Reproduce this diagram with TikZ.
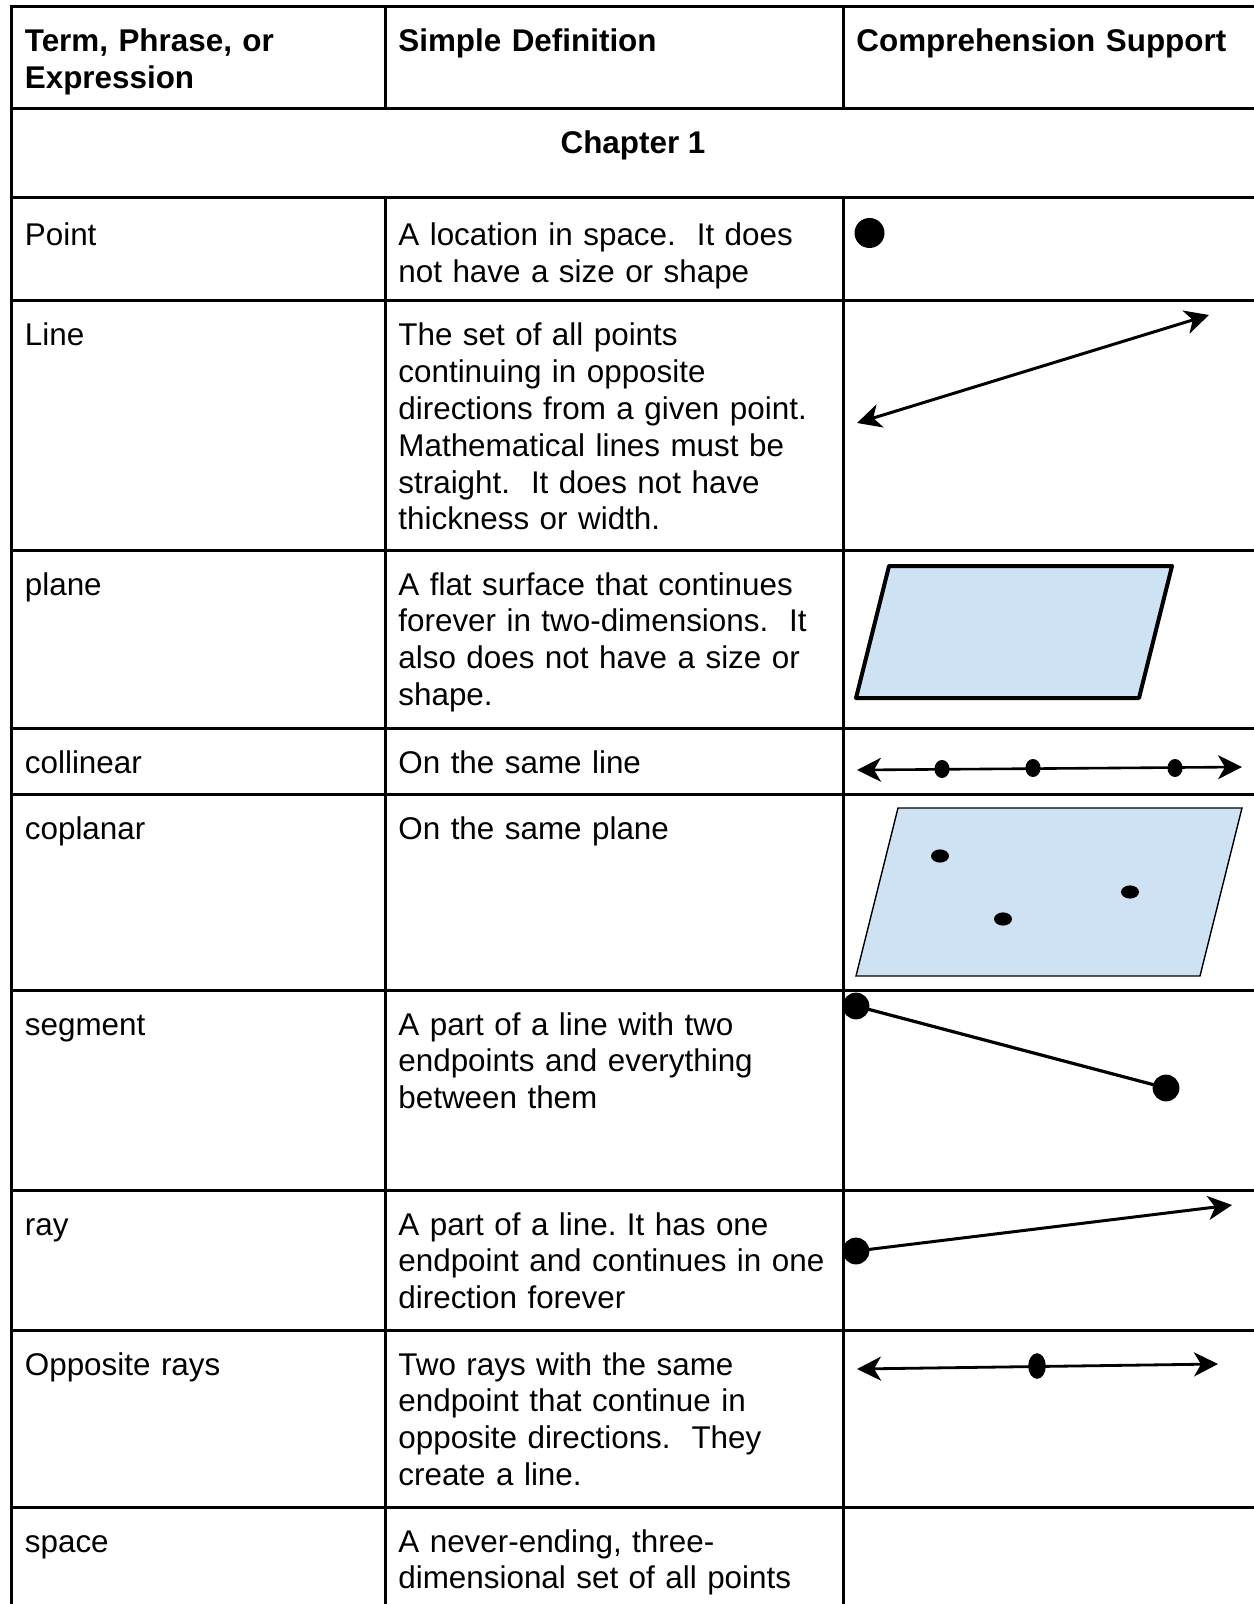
\documentclass[tikz,border=0pt]{standalone}
\usepackage{fontspec}
\setmainfont{Liberation Sans}
\usetikzlibrary{arrows.meta}
\frenchspacing

\definecolor{planeblue}{HTML}{CFE2F3}

\begin{document}
\begin{tikzpicture}[x=0.5pt, y=-0.5pt,
  cell/.style={anchor=base west, inner sep=0pt, align=left, text width=228pt,
    font=\fontsize{15.7}{18.4}\selectfont},
  headcell/.style={cell, font=\fontsize{15.7}{18.4}\selectfont\bfseries},
  rule/.style={line width=1.5pt},
  barb/.tip={Stealth[length=12pt, width=12pt, inset=3.5pt]}]

\useasboundingbox (0,0) rectangle (1253,1604);

% Draw table lines
\foreach \y in {7,109,198,301,550,728,794,990,1190,1330,1507}
  \draw [rule] (9.5,\y) -- (1262,\y);
\draw [rule] (11,5.5) -- (11,1612);
\draw [rule] (1255,5.5) -- (1255,1612);
\foreach \x in {385,843} {
  \draw [rule] (\x,7) -- (\x,109);
  \draw [rule] (\x,198) -- (\x,1612);
}

% Header and chapter
\node [headcell] (hterm) at (24.5,52) {Term, Phrase, or\\Expression};
\node [headcell] (hdef) at (398,52) {Simple Definition};
\node [headcell] (hsup) at (856,52) {Comprehension Support};
\node [headcell, anchor=base, align=center, text width=] (chap) at (633,154) {Chapter 1};

% Terms
\node [cell] (tpoint) at (24.5,246) {Point};
\node [cell] (tline) at (24.5,346) {Line};
\node [cell] (tplane) at (24.5,595) {plane};
\node [cell] (tcoll) at (24.5,773) {collinear};
\node [cell] (tcopl) at (24.5,839) {coplanar};
\node [cell] (tseg) at (24.5,1035) {segment};
\node [cell] (tray) at (24.5,1235) {ray};
\node [cell] (topp) at (24.5,1375) {Opposite rays};
\node [cell] (tspace) at (24.5,1552) {space};

% Definitions
\node [cell] (dpoint) at (398,246) {A location in space.\ \ It does\\not have a size or shape};
\node [cell] (dline) at (398,346) {The set of all points\\continuing in opposite\\directions from a given point.\\Mathematical lines must be\\straight.\ \ It does not have\\thickness or width.};
\node [cell] (dplane) at (398,595) {A flat surface that continues\\forever in two-dimensions.\ \ It\\also does not have a size or\\shape.};
\node [cell] (dcoll) at (398,773) {On the same line};
\node [cell] (dcopl) at (398,839) {On the same plane};
\node [cell] (dseg) at (398,1035) {A part of a line with two\\endpoints and everything\\between them};
\node [cell] (dray) at (398,1235) {A part of a line. It has one\\endpoint and continues in one\\direction forever};
\node [cell] (dopp) at (398,1375) {Two rays with the same\\endpoint that continue in\\opposite directions.\ \ They\\create a line.};
\node [cell] (dspace) at (398,1552) {A never-ending, three-\\dimensional set of all points};

% Point
\fill (869.5,233) circle (7.5pt);

% Line
\coordinate (lineA) at (857,423);
\coordinate (lineB) at (1209,315);
\draw [line width=1.5pt, barb-barb] (lineA) -- (lineB);

% Plane
\draw [line width=2pt, line join=round, fill=planeblue]
  (889,566) -- (1172,566) -- (1139,698) -- (856,698) -- cycle;

% Collinear points
\coordinate (collA) at (857,770);
\coordinate (collB) at (1242,767);
\draw [line width=1.3pt, barb-barb] (collA) -- (collB);
\foreach \x/\y in {942/769,1033/768,1175/768}
  \fill (\x,\y) ellipse (3.8pt and 4.5pt);

% Coplanar points
\draw [line width=0.7pt, fill=planeblue]
  (898,808) -- (1242,808) -- (1200,976) -- (856,976) -- cycle;
\foreach \x/\y in {940/856,1130/892,1003/919}
  \fill (\x,\y) ellipse (4.5pt and 3.3pt);

% Segment
\coordinate (segA) at (856,1006);
\coordinate (segB) at (1166,1088);
\draw [line width=1.6pt] (segA) -- (segB);
\fill (segA) circle (6.7pt);
\fill (segB) circle (6.7pt);

% Ray
\coordinate (rayA) at (856,1251);
\coordinate (rayB) at (1232,1205);
\draw [line width=1.5pt, -barb] (rayA) -- (rayB);
\fill (rayA) circle (6.7pt);

% Opposite rays
\coordinate (oppA) at (857,1369);
\coordinate (oppB) at (1218,1364);
\draw [line width=1.4pt, barb-barb] (oppA) -- (oppB);
\fill (1037,1366) ellipse (4.4pt and 6.4pt);

\end{tikzpicture}
\end{document}
